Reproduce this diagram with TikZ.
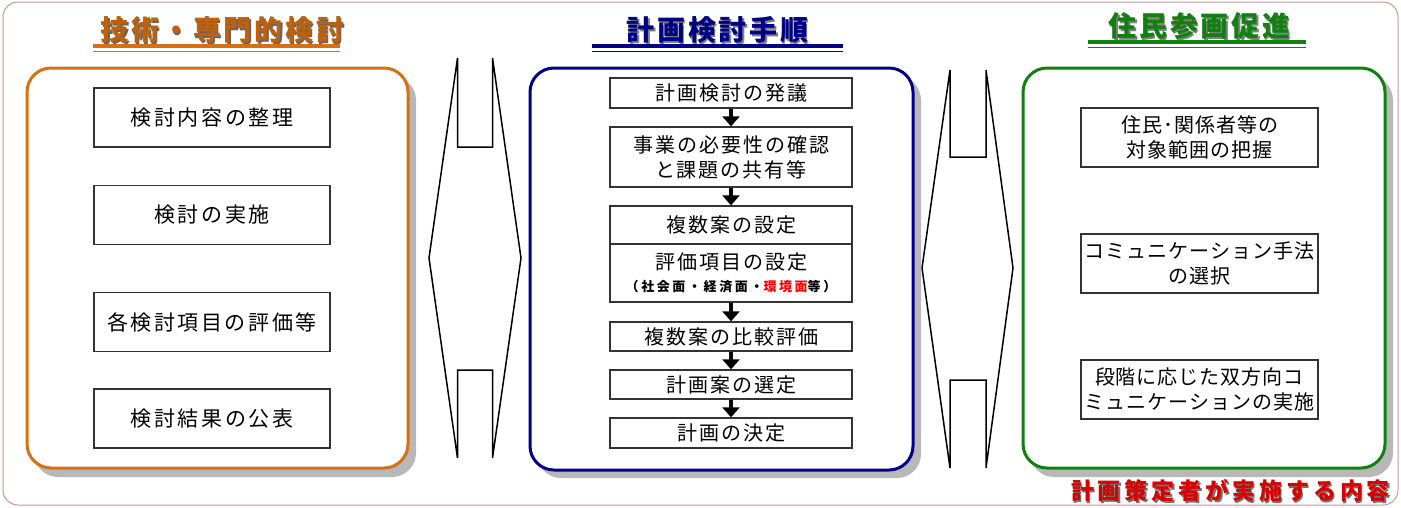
\documentclass[tikz,border=0pt]{standalone}
\usepackage{fontspec}
\setmainfont{Noto Sans CJK JP}
\usetikzlibrary{arrows.meta}
\definecolor{techorange}{RGB}{214,112,16}
\definecolor{titleorange}{RGB}{190,96,12}
\definecolor{plannavy}{RGB}{0,0,135}
\definecolor{civicgreen}{RGB}{16,128,16}
\definecolor{framepink}{RGB}{200,150,150}
\newcommand\jpitem{\fontsize{21}{26}\selectfont\addfontfeature{LetterSpace=12}}
\newcommand\jpstep{\fontsize{20}{25}\selectfont\addfontfeature{LetterSpace=10}}
\newcommand\jpside{\fontsize{20}{25}\selectfont\addfontfeature{LetterSpace=5}}
\newcommand\jpsub{\fontsize{13}{16}\selectfont\bfseries\addfontfeature{LetterSpace=20}}
\newcommand\jphead{\fontsize{28}{32}\selectfont\bfseries\addfontfeature{LetterSpace=10}}
\newcommand\jpnote{\fontsize{23}{27}\selectfont\bfseries\addfontfeature{LetterSpace=17}}

\begin{document}
\begin{tikzpicture}[x=1pt,y=-1pt,
    panel/.style={line width=3pt,rounded corners=24pt,fill=white},
    panelshade/.style={fill=black!28,rounded corners=24pt},
    itembox/.style={draw=black!80,line width=1.3pt,fill=white,minimum width=236pt,minimum height=59pt,align=center,inner sep=0pt,font=\jpitem},
    sidebox/.style={draw=black!80,line width=1.3pt,fill=white,minimum width=237pt,minimum height=59pt,align=center,inner sep=0pt,font=\jpside},
    stepbox/.style={draw=black!80,line width=1.3pt,fill=white,minimum width=242pt,align=center,inner sep=0pt,font=\jpstep},
    headtext/.style={inner sep=0pt,font=\jphead},
    flow/.style={line width=4pt,-{Triangle[width=17pt,length=10pt]}},
    twoway/.style={line width=1.5pt,line join=miter,fill=white}]
    \useasboundingbox (0,0) rectangle (1401,507);
    \draw[framepink,line width=1pt,rounded corners=15pt] (3,2) rectangle (1398,505);

    % titles
    \node[headtext,text=black!60] (techshadow) at (224,31.5) {技術・専門的検討};
    \node[headtext,text=titleorange] (techtitle) at (222.5,30) {技術・専門的検討};
    \draw[techorange,line width=4pt] (93,46) -- (340,46);
    \draw[techorange,line width=1pt] (93,51) -- (340,51);
    \node[headtext,text=black!50] (planshadow) at (719,31.5) {計画検討手順};
    \node[headtext,text=plannavy] (plantitle) at (717.5,30) {計画検討手順};
    \draw[plannavy,line width=4pt] (592,46) -- (843,46);
    \draw[plannavy,line width=1pt] (592,51) -- (843,51);
    \node[headtext,text=black!50] (civicshadow) at (1201,27.5) {住民参画促進};
    \node[headtext,text=civicgreen] (civictitle) at (1199.5,26) {住民参画促進};
    \draw[civicgreen,line width=4pt] (1088,42) -- (1306,42);
    \draw[civicgreen,line width=1pt] (1088,47) -- (1306,47);

    % panels
    \fill[panelshade] (34,76) rectangle (416,477);
    \draw[panel,draw=techorange] (27,68) rectangle (408,468);
    \fill[panelshade] (537,76) rectangle (921,478);
    \draw[panel,draw=plannavy] (530,68) rectangle (913,470);
    \fill[panelshade] (1030,76) rectangle (1393,477);
    \draw[panel,draw=civicgreen] (1023,68) rectangle (1385,468);

    % two-way arrows
    \draw[twoway] (457.5,58) -- (429,258) -- (457.5,458) -- (457.5,370) -- (492.5,370)
        -- (492.5,458) -- (521,258) -- (492.5,58) -- (492.5,147) -- (457.5,147) -- cycle;
    \draw[twoway] (950,70) -- (922,268) -- (950,468) -- (950,380) -- (986,380)
        -- (986,468) -- (1013,268) -- (986,70) -- (986,157) -- (950,157) -- cycle;

    % left items
    \node[itembox] (organise) at (212,117.5) {検討内容の整理};
    \node[itembox] (conduct) at (212,215) {検討の実施};
    \node[itembox] (assess) at (212,322) {各検討項目の評価等};
    \node[itembox] (publish) at (212,418.5) {検討結果の公表};

    % procedure
    \node[stepbox,minimum height=30pt] (initiate) at (731,93) {計画検討の発議};
    \node[stepbox,minimum height=60pt] (confirm) at (731,157) {事業の必要性の確認\\と課題の共有等};
    \node[stepbox,minimum height=38pt] (options) at (731,225) {複数案の設定};
    \node[stepbox,minimum height=58pt] (criteria) at (731,273)
        {評価項目の設定\\[-3pt]{\jpsub （社会面・経済面・\textcolor{red}{環境面}等）}};
    \node[stepbox,minimum height=29pt] (compare) at (731,336.5) {複数案の比較評価};
    \node[stepbox,minimum height=29pt] (select) at (731,384.5) {計画案の選定};
    \node[stepbox,minimum height=30pt] (decide) at (731,433) {計画の決定};
    \draw[flow] (initiate) -- (confirm);
    \draw[flow] (confirm) -- (options);
    \draw[flow] (criteria) -- (compare);
    \draw[flow] (compare) -- (select);
    \draw[flow] (select) -- (decide);

    % right items
    \node[sidebox] (scope) at (1199.5,137.5) {住民･関係者等の\\対象範囲の把握};
    \node[sidebox] (method) at (1199.5,263.5) {コミュニケーション手法\\の選択};
    \node[sidebox] (dialogue) at (1199.5,389.5) {段階に応じた双方向コ\\ミュニケーションの実施};

    \node[inner sep=0pt,font=\jpnote,text=black!55] (noteshadow) at (1232,492.5) {計画策定者が実施する内容};
    \node[inner sep=0pt,font=\jpnote,text=red!85!black] (note) at (1230.5,491) {計画策定者が実施する内容};
\end{tikzpicture}
\end{document}
